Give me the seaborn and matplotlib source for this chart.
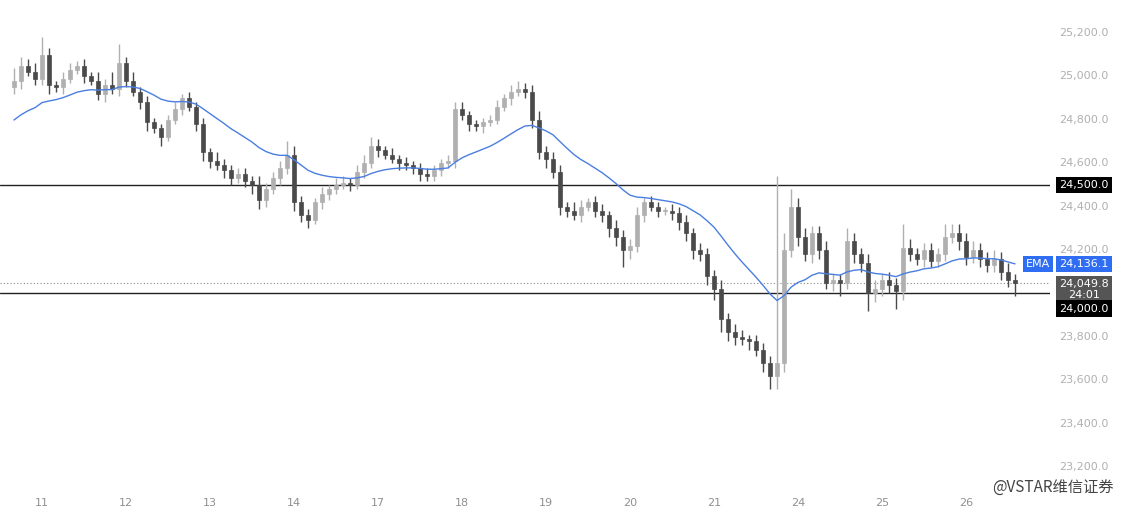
import numpy as np
import pandas as pd
import matplotlib
matplotlib.use("Agg")
import matplotlib.pyplot as plt
import matplotlib.transforms as mtrans
import seaborn as sns

closes = [24980,25050,25020,24990,25100,24960,24950,24990,25030,25050,25000,24980,
          24920,24960,24940,25060,24980,24930,24880,24790,24760,24720,24800,24850,
          24900,24860,24780,24650,24610,24590,24570,24530,24550,24520,24500,24430,
          24480,24530,24580,24640,24420,24360,24340,24420,24460,24480,24500,24510,
          24500,24560,24600,24680,24660,24640,24620,24600,24590,24580,24550,24540,
          24570,24600,24610,24850,24820,24780,24770,24790,24800,24860,24900,24930,
          24940,24930,24800,24650,24620,24560,24400,24380,24360,24400,24420,24380,
          24360,24300,24260,24200,24220,24360,24420,24400,24380,24380,24370,24330,
          24280,24200,24180,24080,24020,23880,23820,23800,23790,23780,23740,23680,
          23620,23680,24200,24400,24260,24180,24280,24200,24050,24060,24050,24240,
          24180,24140,24000,24020,24060,24040,24010,24210,24180,24160,24200,24150,
          24180,24260,24280,24240,24170,24200,24160,24130,24160,24100,24060,24050]
upper_wick = [60,40,30,40,80,30,20,30,30,20,30,20,
              40,30,60,90,30,40,20,30,20,20,20,30,
              20,30,20,30,20,40,30,20,30,30,20,40,
              30,30,30,60,40,30,30,20,30,20,30,30,
              20,30,40,40,30,20,30,20,30,20,20,30,
              20,20,30,30,30,20,20,20,20,30,20,30,
              40,30,30,40,30,30,30,20,40,30,20,30,
              30,20,40,30,30,40,20,30,20,20,30,30,
              30,20,30,30,30,40,30,40,30,20,30,30,
              30,860,80,80,40,40,30,30,40,30,30,60,
              40,30,40,40,30,40,30,110,40,30,30,30,
              30,60,40,40,40,40,30,30,40,30,40,30]
lower_wick = [30,40,20,30,30,40,20,30,20,20,30,20,
              30,40,20,30,30,20,30,40,20,40,20,20,
              30,20,30,40,30,20,40,30,20,30,40,40,
              30,20,30,30,40,30,40,20,30,30,20,20,
              30,20,30,20,30,20,20,30,20,30,30,20,
              20,30,20,30,20,30,20,30,20,20,20,30,
              20,30,40,30,40,30,40,30,20,30,20,30,
              30,40,40,80,40,30,30,20,30,20,30,40,
              40,40,30,40,50,60,40,40,30,40,30,40,
              60,60,40,30,40,30,40,40,30,40,60,30,
              40,40,80,40,30,40,80,40,30,30,40,30,
              30,30,30,40,40,30,40,30,30,40,30,60]
day_labels = ["11","12","13","14","17","18","19","20","21","24","25","26"]
price_ticks = [23200,23400,23600,23800,24200,24400,24600,24800,25000,25200]
levels = [24500, 24000]
last_price = 24049.8

closes = np.array(closes, float)
opens = np.concatenate([[24950], closes[:-1]])
highs = np.maximum(opens, closes) + np.array(upper_wick)
lows = np.minimum(opens, closes) - np.array(lower_wick)
ema_vals = []
e = 24780.0
a = 2 / (20 + 1)
for c in closes:
    e = a * c + (1 - a) * e
    ema_vals.append(e)
df = pd.DataFrame({"i": np.arange(len(closes)), "ema": ema_vals})

sns.set_theme(style="white")
plt.rcParams['font.family'] = ['DejaVu Sans', 'Noto Sans CJK SC']
fig = plt.figure(figsize=(11.25, 5.23), dpi=100)
W = 1050
ax = fig.add_axes([0, 33/523, W/1125, 490/523])
idx = np.arange(len(closes))
up = closes >= opens
for i in idx:
    col = "#b0b0b0" if up[i] else "#4a4a4a"
    ax.vlines(i, lows[i], highs[i], color=col, lw=1, zorder=2)
    ax.bar(i, abs(closes[i]-opens[i]) or 3, bottom=min(opens[i], closes[i]), width=0.7,
           color=col, edgecolor=col, lw=0.5, zorder=3)
sns.lineplot(data=df, x="i", y="ema", ax=ax, color="#4a7ee0", lw=1, zorder=4)
for lv in levels:
    ax.axhline(lv, color="#222222", lw=1, zorder=1)
ax.axhline(last_price, color="#888888", lw=0.8, ls=(0, (1, 2)), zorder=1)
ax.set_xlim(-2, 148)
ax.set_ylim(23094, 25352)
ax.set_xticks([]); ax.set_yticks([])
ax.set_xlabel(""); ax.set_ylabel("")
for s in ax.spines.values():
    s.set_visible(False)

XL = 1084 / W
tr = mtrans.blended_transform_factory(ax.transAxes, ax.transData)
for p in price_ticks:
    ax.text(XL, p, f"{p:,.1f}", transform=tr, ha="center", va="center",
            fontsize=8, color="#b0b0b0", clip_on=False)
def box(y, txt, fc, x=XL, tc="white"):
    ax.text(x, y, txt, transform=tr, ha="center", va="center", fontsize=8, color=tc,
            clip_on=False, bbox=dict(boxstyle="square,pad=0.3", fc=fc, ec="none"), zorder=10)
box(24500, "24,500.0", "black")
box(23930, "24,000.0", "black")
box(ema_vals[-1], f"{ema_vals[-1]:,.1f}", "#2f6ef2")
box(ema_vals[-1], "EMA", "#2f6ef2", x=1038 / W)
ax.text(XL, 24065, "24,049.8\n24:01", transform=tr, ha="center", va="top",
        fontsize=8, color="white", clip_on=False, linespacing=1.05,
        bbox=dict(boxstyle="square,pad=0.3", fc="#555555", ec="none"), zorder=9)

trx = mtrans.blended_transform_factory(ax.transData, fig.transFigure)
for k, lab in enumerate(day_labels):
    fig.text(4 + 12*k, 1 - 503/523, lab, transform=trx, ha="center", va="center",
             fontsize=8, color="#909090")
fig.text(0.99, 1 - 487/523, "@VSTAR维信证券", ha="right", va="center", fontsize=11,
         color="#444444", family=['Noto Sans CJK SC', 'DejaVu Sans'])
fig.savefig("out.png", dpi=100, facecolor="white")
